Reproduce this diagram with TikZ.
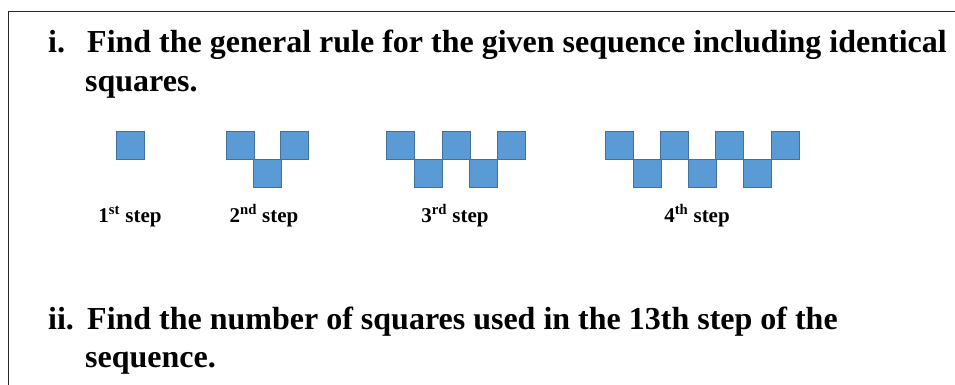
\documentclass[tikz,border=0pt]{standalone}
\usepackage{fontspec}
\setmainfont{Liberation Serif}
\definecolor{sqfill}{RGB}{91,155,213}
\definecolor{sqdraw}{RGB}{65,113,156}
\definecolor{framec}{RGB}{40,40,40}
\begin{document}
\begin{tikzpicture}[x=1pt,y=-1pt,
  sq/.style={rectangle,draw=sqdraw,fill=sqfill,line width=0.9pt,minimum size=27.5pt,inner sep=0pt,anchor=north west},
  qtext/.style={anchor=base west,inner sep=0pt,font=\fontsize{32}{38}\selectfont\bfseries},
  lbl/.style={anchor=base,inner sep=0pt,font=\fontsize{21}{24}\selectfont\bfseries}]
\useasboundingbox (0,0) rectangle (955,385);
\coordinate (fl) at (8,385);
\coordinate (fc) at (8,12);
\coordinate (fr) at (956,12);
\draw[framec,line width=1pt] (fl) -- (fc) -- (fr);
% question i
\node[qtext] (ni) at (48,53) {i.};
\node[qtext] (ti1) at (87,53) {Find the general rule for the given sequence including identical};
\node[qtext] (ti2) at (85,92) {squares.};
% step 1
\node[sq] (a1) at (116,131) {};
% step 2
\node[sq] (b1) at (226,131) {};
\node[sq] (b2) at (253,159) {};
\node[sq] (b3) at (280,131) {};
% step 3
\node[sq] (c1) at (386,131) {};
\node[sq] (c2) at (414,159) {};
\node[sq] (c3) at (442,131) {};
\node[sq] (c4) at (469,159) {};
\node[sq] (c5) at (497,131) {};
% step 4
\node[sq] (d1) at (605,131) {};
\node[sq] (d2) at (633,159) {};
\node[sq] (d3) at (660,131) {};
\node[sq] (d4) at (688,159) {};
\node[sq] (d5) at (715,131) {};
\node[sq] (d6) at (743,159) {};
\node[sq] (d7) at (771,131) {};
% labels
\node[lbl] (l1) at (130,222) {1\textsuperscript{st} step};
\node[lbl] (l2) at (264,222) {2\textsuperscript{nd} step};
\node[lbl] (l3) at (455,222) {3\textsuperscript{rd} step};
\node[lbl] (l4) at (697,222) {4\textsuperscript{th} step};
% question ii
\node[qtext] (nii) at (48,329) {ii.};
\node[qtext] (tii1) at (87,329) {Find the number of squares used in the 13th step of the};
\node[qtext] (tii2) at (85,367) {sequence.};
\end{tikzpicture}
\end{document}
